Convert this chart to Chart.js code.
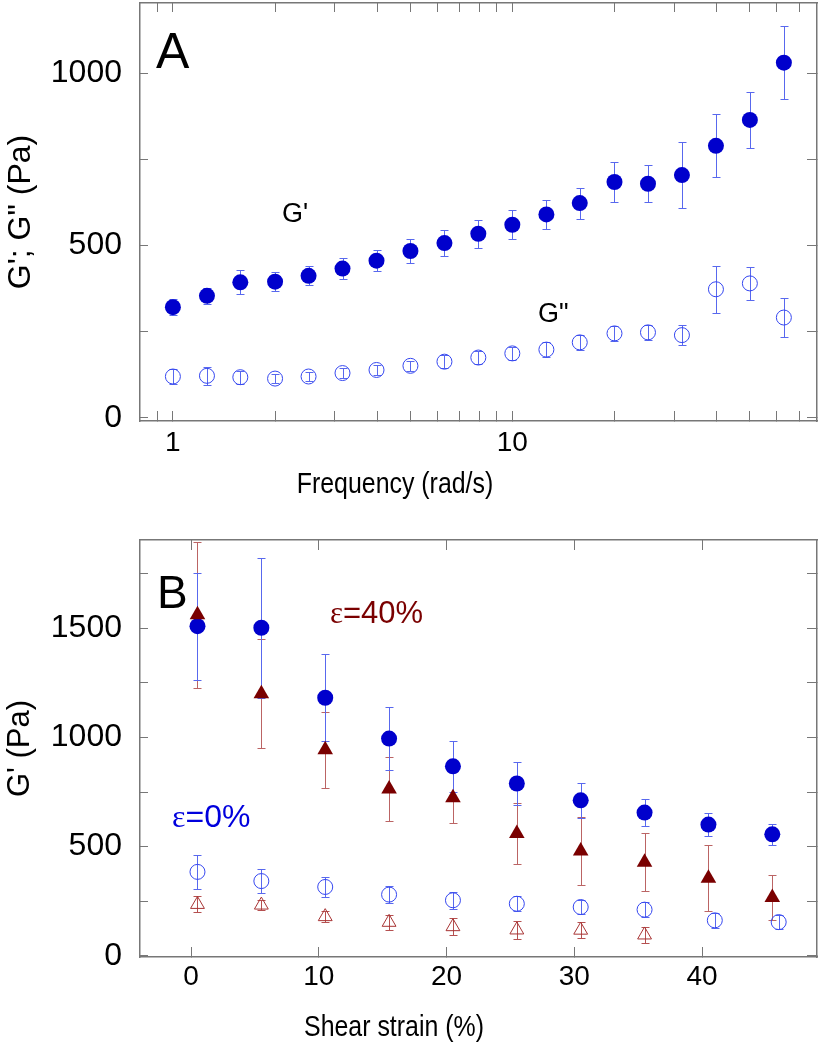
<!DOCTYPE html>
<html>
<head>
<meta charset="utf-8">
<script src="https://cdn.jsdelivr.net/npm/chart.js@4.4.1/dist/chart.umd.min.js"></script>
<style>
  body { margin: 0; background: #fff; }
  #wrap { position: relative; width: 820px; height: 1050px; }
  .panel { position: absolute; left: 0; width: 820px; }
</style>
</head>
<body>
<div id="wrap">
  <div class="panel" style="top:0;height:520px"><canvas id="chartA"></canvas></div>
  <div class="panel" style="top:520px;height:530px"><canvas id="chartB"></canvas></div>
</div>
<script>
// panel A: frequency sweep
const freq = [1, 1.26, 1.58, 2, 2.51, 3.16, 3.98, 5.01, 6.31, 7.94, 10, 12.6, 15.8, 20, 25.1, 31.6, 39.8, 50.1, 63.1]
const gPrime = [321, 354, 393, 395, 412, 433, 456, 484, 507, 534, 560, 590, 623, 684, 679, 704, 789, 864, 1030]
const gPrimeErr = [23, 24, 35, 28, 27, 30, 31, 36, 39, 40, 42, 43, 45, 57, 54, 95, 91, 80, 106]
const gDouble = [120, 122, 118, 114, 120, 130, 139, 151, 163, 175, 187, 198, 219, 245, 248, 240, 373, 390, 291]
const gDoubleErr = [22, 26, 19, 12, 12, 14, 14, 15, 19, 20, 20, 21, 21, 22, 21, 29, 68, 47, 57]
const freqTicks = [0.9, 1, 2, 3, 4, 5, 6, 7, 8, 9, 10, 20, 30, 40, 50, 60, 70]
const freqTickLabels = [1, 10]
const modTicksA = [0, 250, 500, 750, 1000]
const modLabelsA = [0, 500, 1000]

// panel B: strain sweep
const strain = [0.5, 5.5, 10.5, 15.5, 20.5, 25.5, 30.5, 35.5, 40.5, 45.5]
const strainLoss0 = [0.5, 5.5, 10.5, 15.5, 20.5, 25.5, 30.5, 35.5, 41, 46]
const g0 = [1510, 1503, 1182, 995, 868, 789, 712, 656, 601, 556]
const g0Err = [245, 320, 200, 143, 116, 99, 81, 60, 53, 49]
const g40 = [1562, 1200, 944, 764, 724, 560, 480, 428, 355, 267]
const g40Err = [335, 250, 175, 145, 118, 142, 155, 133, 150, 105]
const g0Loss = [384, 342, 315, 280, 254, 238, 223, 211, 162, 154]
const g0LossErr = [78, 56, 46, 40, 38, 34, 34, 33, 33, 33]
const g40Loss = [235, 232, 179, 153, 133, 118, 117, 95]
const g40LossErr = [37, 23, 25, 34, 40, 40, 37, 37]
const strainTicks = [0, 10, 20, 30, 40]
const modTicksB = [0, 250, 500, 750, 1000, 1250, 1500, 1750]
const modLabelsB = [0, 500, 1000, 1500]

Chart.defaults.font.family = "'Liberation Sans', Arial, sans-serif"
Chart.defaults.color = '#000'

const pts = (xs, ys) => xs.map((x, i) => ({ x: x, y: ys[i] }))

// fixed axis sizes, and no extra room for labels sticking out
const fixSize = (w, h) => s => {
    if (w !== null) s.width = w
    if (h !== null) s.height = h
    s.paddingTop = 0; s.paddingBottom = 0; s.paddingLeft = 0; s.paddingRight = 0
}

// vertical error bars with small caps, drawn under the markers
const errorBars = {
    id: 'errorBars',
    beforeDatasetsDraw(chart) {
        const ctx = chart.ctx
        const area = chart.chartArea
        ctx.save()
        ctx.beginPath()
        ctx.rect(area.left, area.top, area.right - area.left, area.bottom - area.top)
        ctx.clip()
        chart.data.datasets.forEach(ds => {
            if (!ds.errors) return
            const xs = chart.scales.x
            const ys = chart.scales.y
            ctx.strokeStyle = ds.errorColor
            ctx.lineWidth = 1
            ds.data.forEach((p, i) => {
                const px = Math.round(xs.getPixelForValue(p.x)) + 0.5
                const top = Math.round(ys.getPixelForValue(p.y + ds.errors[i])) + 0.5
                const bot = Math.round(ys.getPixelForValue(p.y - ds.errors[i])) + 0.5
                ctx.beginPath()
                ctx.moveTo(px, top); ctx.lineTo(px, bot)
                ctx.moveTo(px - 4, top); ctx.lineTo(px + 4, top)
                ctx.moveTo(px - 4, bot); ctx.lineTo(px + 4, bot)
                ctx.stroke()
            })
        })
        ctx.restore()
    }
}

// free text: panel letters, curve labels, x titles
const panelText = {
    id: 'panelText',
    afterDraw(chart, args, opts) {
        const ctx = chart.ctx
        ;(opts.items || []).forEach(it => {
            ctx.save()
            ctx.translate(it.x, it.y)
            ctx.scale(it.sx || 1, 1)
            ctx.fillStyle = it.color || '#000'
            ctx.textBaseline = 'alphabetic'
            ctx.textAlign = 'left'
            const parts = it.parts || [{ t: it.text }]
            const fonts = parts.map(p => it.size + 'px ' + (p.family || "'Liberation Sans', Arial, sans-serif"))
            const widths = parts.map((p, i) => { ctx.font = fonts[i]; return ctx.measureText(p.t).width })
            const total = widths.reduce((a, b) => a + b, 0)
            let x = it.align === 'center' ? -total / 2 : 0
            parts.forEach((p, i) => {
                ctx.font = fonts[i]
                ctx.fillText(p.t, x, 0)
                x += widths[i]
            })
            ctx.restore()
        })
    }
}

const frameColor = '#777'
const gridInside = (len) => ({ drawOnChartArea: false, drawTicks: true, tickLength: -len, color: frameColor, lineWidth: 1 })
const frameBorder = { display: true, color: frameColor, width: 1.5 }

// ---------- panel A ----------
new Chart(document.getElementById('chartA'), {
    type: 'scatter',
    data: {
        datasets: [{
            label: "G'",
            data: pts(freq, gPrime),
            errors: gPrimeErr,
            errorColor: '#5868ee',
            pointRadius: 8,
            pointBackgroundColor: '#0000cc',
            pointBorderColor: '#0000cc',
            pointBorderWidth: 0
        }, {
            label: 'G"',
            data: pts(freq, gDouble),
            errors: gDoubleErr,
            errorColor: '#5868ee',
            pointRadius: 7.5,
            pointBackgroundColor: 'rgba(0,0,0,0)',
            pointBorderColor: '#3446f0',
            pointBorderWidth: 1
        }]
    },
    options: {
        responsive: true,
        maintainAspectRatio: false,
        animation: false,
        layout: { autoPadding: false, padding: { top: 3, right: 3, left: 0, bottom: 0 } },
        plugins: {
            legend: { display: false },
            tooltip: { enabled: false },
            panelText: {
                items: [
                    { text: 'A', x: 156, y: 68, size: 50 },
                    { text: "G'", x: 282, y: 222, size: 27 },
                    { text: 'G"', x: 538, y: 322, size: 27 },
                    { text: 'Frequency (rad/s)', x: 395, y: 493, size: 30, sx: 0.83, align: 'center' }
                ]
            }
        },
        scales: {
            x: {
                type: 'logarithmic', position: 'bottom', min: 0.8, max: 79,
                afterBuildTicks: s => { s.ticks = freqTicks.map(v => ({ value: v })) },
                afterFit: fixSize(null, 99),
                ticks: {
                    autoSkip: false, maxRotation: 0, padding: 15, font: { size: 28 },
                    callback: v => freqTickLabels.includes(v) ? String(v) : ''
                },
                grid: gridInside(10), border: frameBorder
            },
            xTop: {
                type: 'logarithmic', position: 'top', min: 0.8, max: 79,
                afterBuildTicks: s => { s.ticks = freqTicks.map(v => ({ value: v })) },
                afterFit: fixSize(null, 0),
                ticks: { display: false },
                grid: gridInside(9), border: frameBorder
            },
            y: {
                type: 'linear', position: 'left', min: -9, max: 1203,
                afterBuildTicks: s => { s.ticks = modTicksA.map(v => ({ value: v })) },
                afterFit: fixSize(140, null),
                ticks: {
                    padding: 26, font: { size: 32 },
                    callback: v => modLabelsA.includes(v) ? String(v) : ''
                },
                title: { display: true, text: 'G\'; G" (Pa)', font: { size: 32 }, padding: { top: 2, bottom: 0 } },
                grid: gridInside(8), border: frameBorder
            },
            yRight: {
                type: 'linear', position: 'right', min: -9, max: 1203,
                afterBuildTicks: s => { s.ticks = modTicksA.map(v => ({ value: v })) },
                afterFit: fixSize(0, null),
                ticks: { display: false },
                grid: gridInside(10), border: frameBorder
            }
        }
    },
    plugins: [errorBars, panelText]
})

// ---------- panel B ----------
new Chart(document.getElementById('chartB'), {
    type: 'scatter',
    data: {
        datasets: [{
            label: 'G\' 40%',
            data: pts(strain, g40),
            errors: g40Err,
            errorColor: '#bb6464',
            pointStyle: 'triangle',
            pointRadius: 9,
            pointBackgroundColor: '#7a0000',
            pointBorderColor: '#7a0000',
            pointBorderWidth: 0
        }, {
            label: 'G\' 0%',
            data: pts(strain, g0),
            errors: g0Err,
            errorColor: '#5868ee',
            pointRadius: 8,
            pointBackgroundColor: '#0000cc',
            pointBorderColor: '#0000cc',
            pointBorderWidth: 0
        }, {
            label: 'G" 0%',
            data: pts(strainLoss0, g0Loss),
            errors: g0LossErr,
            errorColor: '#5868ee',
            pointRadius: 7.5,
            pointBackgroundColor: 'rgba(0,0,0,0)',
            pointBorderColor: '#3446f0',
            pointBorderWidth: 1
        }, {
            label: 'G" 40%',
            data: pts(strain.slice(0, g40Loss.length), g40Loss),
            errors: g40LossErr,
            errorColor: '#b55050',
            pointStyle: 'triangle',
            pointRadius: 8,
            pointBackgroundColor: 'rgba(0,0,0,0)',
            pointBorderColor: '#a83434',
            pointBorderWidth: 1
        }]
    },
    options: {
        responsive: true,
        maintainAspectRatio: false,
        animation: false,
        layout: { autoPadding: false, padding: { top: 20, right: 3, left: 0, bottom: 0 } },
        plugins: {
            legend: { display: false },
            tooltip: { enabled: false },
            panelText: {
                items: [
                    { text: 'B', x: 157, y: 88, size: 46 },
                    { parts: [{ t: 'ε', family: "'Liberation Serif', serif" }, { t: '=40%' }], x: 330, y: 103, size: 31, color: '#7a0000' },
                    { parts: [{ t: 'ε', family: "'Liberation Serif', serif" }, { t: '=0%' }], x: 172, y: 307, size: 32, color: '#0000dd' },
                    { text: 'Shear strain (%)', x: 394, y: 516, size: 30, sx: 0.83, align: 'center' }
                ]
            }
        },
        scales: {
            x: {
                type: 'linear', position: 'bottom', min: -4, max: 49,
                afterBuildTicks: s => { s.ticks = strainTicks.map(v => ({ value: v })) },
                afterFit: fixSize(null, 93),
                ticks: { autoSkip: false, maxRotation: 0, padding: 13, font: { size: 28 } },
                grid: gridInside(10), border: frameBorder
            },
            xTop: {
                type: 'linear', position: 'top', min: -4, max: 49,
                afterBuildTicks: s => { s.ticks = strainTicks.map(v => ({ value: v })) },
                afterFit: fixSize(null, 0),
                ticks: { display: false },
                grid: gridInside(10), border: frameBorder
            },
            y: {
                type: 'linear', position: 'left', min: -6, max: 1905,
                afterBuildTicks: s => { s.ticks = modTicksB.map(v => ({ value: v })) },
                afterFit: fixSize(140, null),
                ticks: {
                    padding: 26, font: { size: 32 },
                    callback: v => modLabelsB.includes(v) ? String(v) : ''
                },
                title: { display: true, text: "G' (Pa)", font: { size: 31 }, padding: { top: 2, bottom: 0 } },
                grid: gridInside(8), border: frameBorder
            },
            yRight: {
                type: 'linear', position: 'right', min: -6, max: 1905,
                afterBuildTicks: s => { s.ticks = modTicksB.map(v => ({ value: v })) },
                afterFit: fixSize(0, null),
                ticks: { display: false },
                grid: gridInside(10), border: frameBorder
            }
        }
    },
    plugins: [errorBars, panelText]
})
</script>
</body>
</html>
